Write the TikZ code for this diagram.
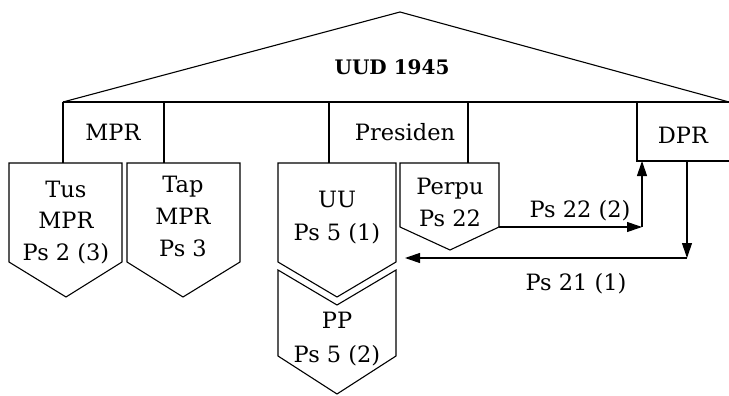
\documentclass[tikz,border=0pt]{standalone}
\usepackage{fontspec}
\setmainfont{DejaVu Serif}
\usetikzlibrary{arrows.meta}
\begin{document}
\begin{tikzpicture}[x=1pt,y=-1pt,
  ln/.style={line width=1.1pt, line join=miter},
  arr/.style={ln, -{Triangle[length=15pt,width=10pt]}},
  txt/.style={inner sep=0pt, anchor=base, font=\fontsize{22.5}{30}\selectfont},
  ttl/.style={inner sep=0pt, anchor=base, font=\fontsize{20}{24}\selectfont\bfseries}]
\useasboundingbox (0,0) rectangle (729,396);
% roof
\draw[ln] (63,102) -- (400,12) -- (729,102);
\draw[ln] (63,102) -- (729,102);
\node[ttl] (uud) at (392,75) {UUD 1945};
% MPR
\draw[ln] (63,102) -- (63,163);
\draw[ln] (164,102) -- (164,163);
\node[txt] (mpr) at (113,140) {MPR};
% Presiden
\draw[ln] (329,102) -- (329,163);
\draw[ln] (468,102) -- (468,163);
\node[txt] (pres) at (405,140) {Presiden};
% DPR
\draw[ln] (637,102) -- (637,161) -- (729,161);
\node[txt] (dpr) at (683,143) {DPR};
\coordinate (dprUp) at (642,161);
\coordinate (dprDown) at (687,161);
% Tus MPR
\draw[ln] (9,163) -- (122,163) -- (122,262) -- (66,297) -- (9,262) -- cycle;
\node[txt] (tus1) at (66,197) {Tus};
\node[txt] (tus2) at (66,228) {MPR};
\node[txt] (tus3) at (66,260) {Ps 2 (3)};
% Tap MPR
\draw[ln] (127,163) -- (240,163) -- (240,262) -- (183,297) -- (127,262) -- cycle;
\node[txt] (tap1) at (183,192) {Tap};
\node[txt] (tap2) at (183,224) {MPR};
\node[txt] (tap3) at (183,256) {Ps 3};
% UU
\draw[ln] (278,163) -- (396,163) -- (396,262) -- (337,297) -- (278,262) -- cycle;
\node[txt] (uu1) at (337,207) {UU};
\node[txt] (uu2) at (337,240) {Ps 5 (1)};
% PP
\draw[ln] (278,270) -- (337,305) -- (396,270) -- (396,356) -- (337,394) -- (278,356) -- cycle;
\node[txt] (pp1) at (337,328) {PP};
\node[txt] (pp2) at (337,362) {Ps 5 (2)};
% Perpu
\draw[ln] (400,163) -- (499,163) -- (499,227) -- (450,250) -- (400,227) -- cycle;
\node[txt] (perpu1) at (450,194) {Perpu};
\node[txt] (perpu2) at (450,226) {Ps 22};
\coordinate (perpuR) at (499,227);
\coordinate (uuR) at (405,258);
% connectors
\coordinate (c1) at (642,227);
\coordinate (c2) at (687,258);
\draw[arr] (perpuR) -- (c1);
\draw[arr] (c1) -- (dprUp);
\draw[arr] (dprDown) -- (c2);
\draw[arr] (c2) -- (uuR);
\node[txt] (ps22) at (580,217) {Ps 22 (2)};
\node[txt] (ps21) at (576,290) {Ps 21 (1)};
\end{tikzpicture}
\end{document}
